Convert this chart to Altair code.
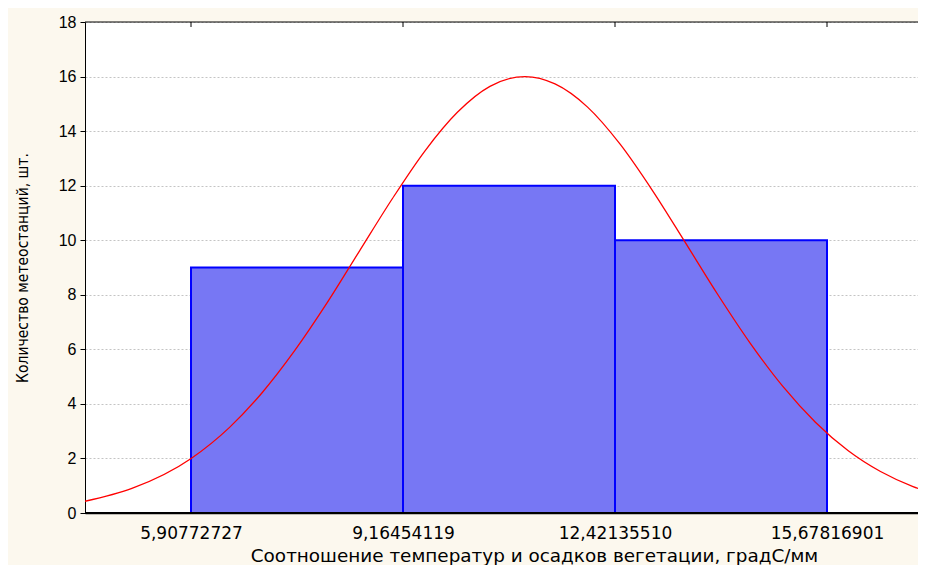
import altair as alt
import pandas as pd

# ---- data ----
x_tick_labels = ["5,90772727", "9,16454119", "12,42135510", "15,67816901"]
x_ticks = [float(s.replace(",", ".")) for s in x_tick_labels]
counts = [9, 12, 10]
bin_left = x_ticks[:3]
bin_right = x_ticks[1:]

curve_x = [4.28, 5.0, 5.91, 6.5, 7.0, 7.5, 8.0, 8.5, 9.0, 9.5, 10.0, 10.5, 11.04,
           11.5, 12.0, 12.5, 13.0, 13.5, 14.0, 14.5, 15.0, 15.5, 16.0, 16.5, 17.0, 17.3]
curve_y = [0.43, 0.90, 2.0, 3.14, 4.41, 5.95, 7.71, 9.62, 11.52, 13.27, 14.69, 15.64, 16.0,
           15.73, 14.88, 13.52, 11.81, 9.92, 8.01, 6.22, 4.64, 3.33, 2.29, 1.52, 0.97, 0.73]

y_ticks = list(range(0, 19, 2))
x_title = "Соотношение температур и осадков вегетации, градС/мм"
y_title = "Количество метеостанций, шт."

# ---- layout ----
W, H = 833, 491
XMIN = x_ticks[0] - (x_ticks[1] - x_ticks[0]) / 2
PX_PER_UNIT = 212 / (x_ticks[1] - x_ticks[0])
XMAX = XMIN + W / PX_PER_UNIT
YMAX = 18

xscale = alt.Scale(domain=[XMIN, XMAX], nice=False, zero=False)
yscale = alt.Scale(domain=[0, YMAX], nice=False)

bars_df = pd.DataFrame({"left": bin_left, "right": bin_right, "count": counts})
curve_df = pd.DataFrame({"x": curve_x, "y": curve_y})
ticks_df = pd.DataFrame({"t": x_ticks})

x_axis = alt.Axis(
    values=x_ticks,
    labelExpr="replace(format(datum.value, '.8f'), '.', ',')",
    ticks=False, grid=False,
    domainColor="black", domainWidth=1.5,
    labelFont="DejaVu Sans", labelFontSize=17, labelColor="black", labelPadding=12,
    title=x_title, titleFont="DejaVu Sans", titleFontSize=18.4, titleFontWeight="normal",
    titleColor="black", titleX=449, titleY=48, titleAlign="center",
    titleBaseline="alphabetic",
)
y_axis = alt.Axis(
    values=y_ticks, grid=True, gridColor="#C4C4C4", gridDash=[2, 2], gridWidth=1,
    domainColor="black", domainWidth=1, tickColor="black", tickSize=5,
    labelFont="Liberation Sans", labelFontSize=16, labelColor="black", labelPadding=4,
    title=y_title,
    titleFont="DejaVu Sans Condensed, Liberation Sans Narrow, Liberation Sans",
    titleFontSize=15.5, titleFontWeight="normal", titleColor="black",
    titleX=-63, titleY=H / 2, titleAngle=-90, titleAlign="center", titleBaseline="middle",
)

bars = alt.Chart(bars_df).mark_bar(
    fill="#7777F4", stroke="#0000FF", strokeWidth=2
).encode(
    x=alt.X("left:Q", scale=xscale, axis=x_axis),
    x2="right:Q",
    y=alt.Y("count:Q", scale=yscale, axis=y_axis),
    y2=alt.datum(0),
)

curve = alt.Chart(curve_df).mark_line(
    color="#FF0000", strokeWidth=1.3, interpolate="monotone", clip=True
).encode(
    x=alt.X("x:Q", scale=xscale),
    y=alt.Y("y:Q", scale=yscale),
)

top_ticks = alt.Chart(ticks_df).mark_rule(color="black", strokeWidth=1).encode(
    x=alt.X("t:Q", scale=xscale),
    y=alt.value(0),
    y2=alt.value(5),
)

top_line = alt.Chart(ticks_df.iloc[[0]]).mark_rule(color="black", strokeWidth=1.2).encode(
    y=alt.datum(YMAX, scale=yscale),
)

bottom_line = alt.Chart(ticks_df.iloc[[0]]).mark_rule(color="black", strokeWidth=1.8).encode(
    y=alt.datum(0, scale=yscale),
)

chart = alt.layer(bars, curve, top_ticks, top_line, bottom_line).properties(
    width=W, height=H,
    autosize=alt.AutoSizeParams(type="none"),
    padding={"left": 77, "top": 14, "right": 0, "bottom": 52},
    background="#FCF8EE",
).configure_view(fill="white", strokeWidth=0)

chart.save("out.html", embed_options={"renderer": "svg", "actions": False})
